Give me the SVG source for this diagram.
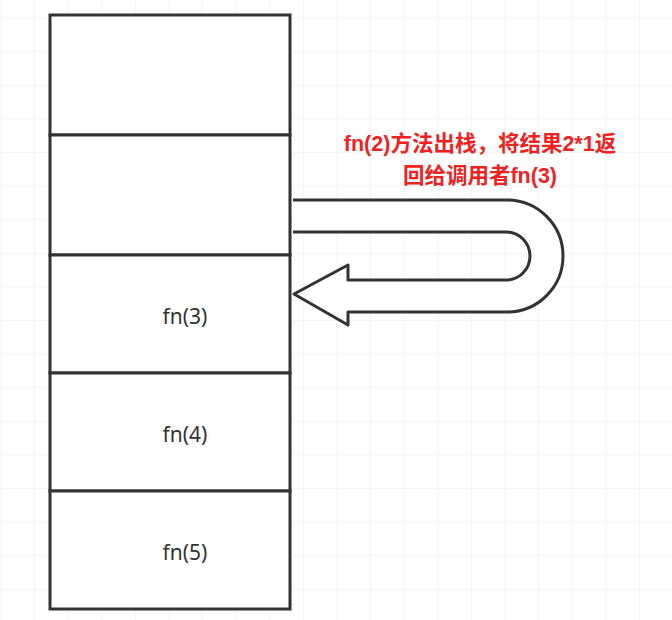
<svg xmlns="http://www.w3.org/2000/svg" width="672" height="620" viewBox="0 0 672 620">
<defs>
<pattern id="grid" width="33.6" height="33.6" patternUnits="userSpaceOnUse" x="1.5" y="-15">
<path d="M33.6,0 V33.6 M0,33.6 H33.6" fill="none" stroke="#ececec" stroke-width="1"/>
</pattern>
<style>
.box{fill:#fff;stroke:#333;stroke-width:3}
.lbl{font-family:"Noto Sans","Liberation Sans",sans-serif;font-size:21px;fill:#333;text-anchor:middle}
.note{font-family:"Liberation Sans","Noto Sans CJK SC",sans-serif;font-size:21.5px;font-weight:bold;fill:#ee2222;text-anchor:middle}
</style>
</defs>
<rect width="672" height="620" fill="#fff"/>
<rect width="672" height="620" fill="url(#grid)"/>
<g id="frame0"><rect class="box" x="50" y="15" width="240" height="120"/></g>
<g id="frame-fn2"><rect class="box" x="50" y="135" width="240" height="120"/></g>
<g id="frame-fn3"><rect class="box" x="50" y="255" width="240" height="118"/><text class="lbl" x="185" y="324">fn(3)</text></g>
<g id="frame-fn4"><rect class="box" x="50" y="373" width="240" height="118"/><text class="lbl" x="185" y="442">fn(4)</text></g>
<g id="frame-fn5"><rect class="box" x="50" y="491" width="240" height="118"/><text class="lbl" x="185" y="560">fn(5)</text></g>
<g id="connectors">
<path d="M293,200 H507 A56,56 0 0 1 507,312 H348 V325 L294,294 L348,265 V280 H506 A24,24 0 0 0 506,232 H293" fill="#fff" stroke="#333" stroke-width="3" stroke-linejoin="round"/>
</g>
<g id="note">
<text class="note" x="480" y="151">fn(2)方法出栈，将结果2*1返</text>
<text class="note" x="480" y="183">回给调用者fn(3)</text>
</g>
</svg>
